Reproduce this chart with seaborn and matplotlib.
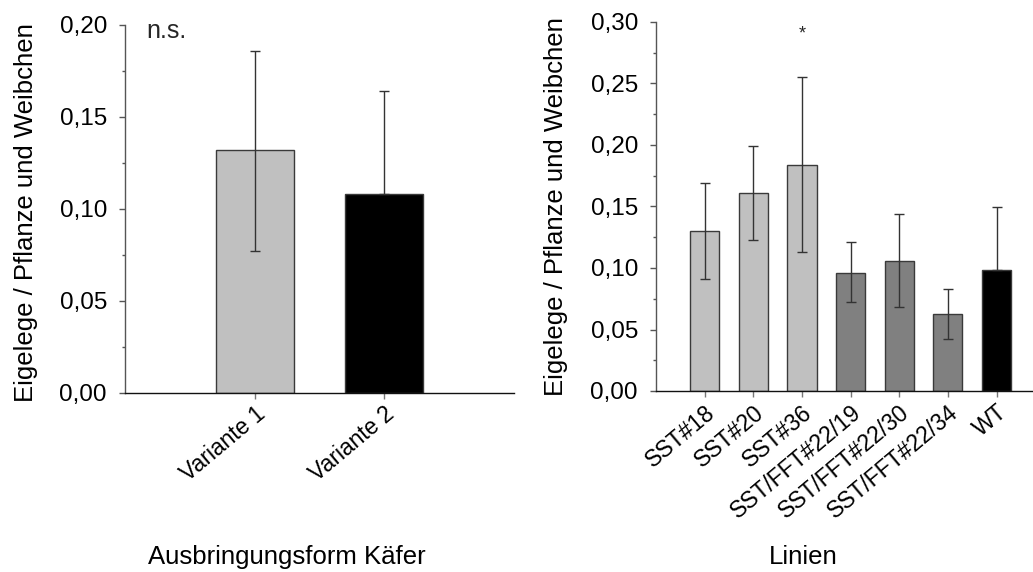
import numpy as np
import pandas as pd
import matplotlib
matplotlib.use("Agg")
import matplotlib.pyplot as plt
import seaborn as sb
from matplotlib.ticker import MultipleLocator, FuncFormatter

sb.set_theme(style="white")
plt.rcParams['font.family'] = ['Liberation Sans', 'DejaVu Sans']

# left panel
var_names = ["Variante 1", "Variante 2"]
var_means = [0.132, 0.108]
var_err_lo = [0.055, 0.0]   # lower whisker hidden inside the black bar
var_err_hi = [0.054, 0.056]
var_colors = ["#c0c0c0", "#000000"]

# right panel
lines = ["SST#18", "SST#20", "SST#36", "SST/FFT#22/19", "SST/FFT#22/30", "SST/FFT#22/34", "WT"]
line_means = [0.130, 0.161, 0.184, 0.096, 0.106, 0.063, 0.098]
line_err_lo = [0.039, 0.038, 0.071, 0.024, 0.038, 0.021, 0.0]
line_err_hi = [0.039, 0.038, 0.071, 0.025, 0.038, 0.020, 0.052]
line_colors = ["#c0c0c0", "#c0c0c0", "#c0c0c0", "#808080", "#808080", "#808080", "#000000"]

comma = FuncFormatter(lambda v, p: f"{v:.2f}".replace(".", ","))


def draw(ax, names, means, lo, hi, colors, ymax, xlim):
    df = pd.DataFrame({"name": names, "val": means})
    sb.barplot(data=df, x="name", y="val", hue="name", palette=colors, legend=False,
               width=0.6, edgecolor="#3a3a3a", linewidth=1, ax=ax)
    ax.errorbar(np.arange(len(names)), means, yerr=[lo, hi], fmt="none",
                ecolor="#333333", elinewidth=1, capsize=3.5, capthick=1, zorder=5)
    ax.set_xlim(*xlim)
    ax.set_ylim(0, ymax)
    ax.yaxis.set_major_locator(MultipleLocator(0.05))
    ax.yaxis.set_minor_locator(MultipleLocator(0.025))
    ax.yaxis.set_major_formatter(comma)
    ax.tick_params(axis="y", which="major", left=True, direction="out", length=4,
                   width=1, color="#555555", labelsize=17.5, pad=9, labelcolor="black")
    ax.tick_params(axis="y", which="minor", left=True, direction="out", length=2.5,
                   width=1, color="#555555")
    ax.tick_params(axis="x", bottom=True, direction="out", length=4, width=1,
                   color="#777777", labelsize=16.5, labelcolor="black", pad=3)
    plt.setp(ax.get_xticklabels(), rotation=40, ha="right", rotation_mode="anchor")
    for s in ["top", "right"]:
        ax.spines[s].set_visible(False)
    ax.spines["left"].set_color("#555555")
    ax.spines["bottom"].set_color("#111111")
    for s in ["left", "bottom"]:
        ax.spines[s].set_linewidth(1)
    ax.set_ylabel("Eigelege / Pflanze und Weibchen", fontsize=18.5, color="black")


fig = plt.figure(figsize=(10.33, 5.72), dpi=100)
ax1 = fig.add_axes([125 / 1033, 1 - 393 / 572, 389 / 1033, 368 / 572])
ax2 = fig.add_axes([656 / 1033, 1 - 391 / 572, 377 / 1033, 369 / 572])

draw(ax1, var_names, var_means, var_err_lo, var_err_hi, var_colors, 0.20, (-1, 2))
draw(ax2, lines, line_means, line_err_lo, line_err_hi, line_colors, 0.30, (-1, 6.75))

ax1.set_xlabel("Ausbringungsform Käfer", fontsize=18.5, color="black", va="center")
ax2.set_xlabel("Linien", fontsize=18.5, color="black", va="center")
ax1.xaxis.set_label_coords(0.416, -0.446)
ax2.xaxis.set_label_coords(0.39, -0.45)
ax1.yaxis.set_label_coords(-0.223, 0.49)
ax2.yaxis.set_label_coords(-0.234, 0.5)

ax1.text(0.056, 0.985, "n.s.", transform=ax1.transAxes, fontsize=18, va="center", ha="left")
ax2.text(2, 0.290, "*", fontsize=13, ha="center", va="center")

fig.savefig("out.png", dpi=100)
